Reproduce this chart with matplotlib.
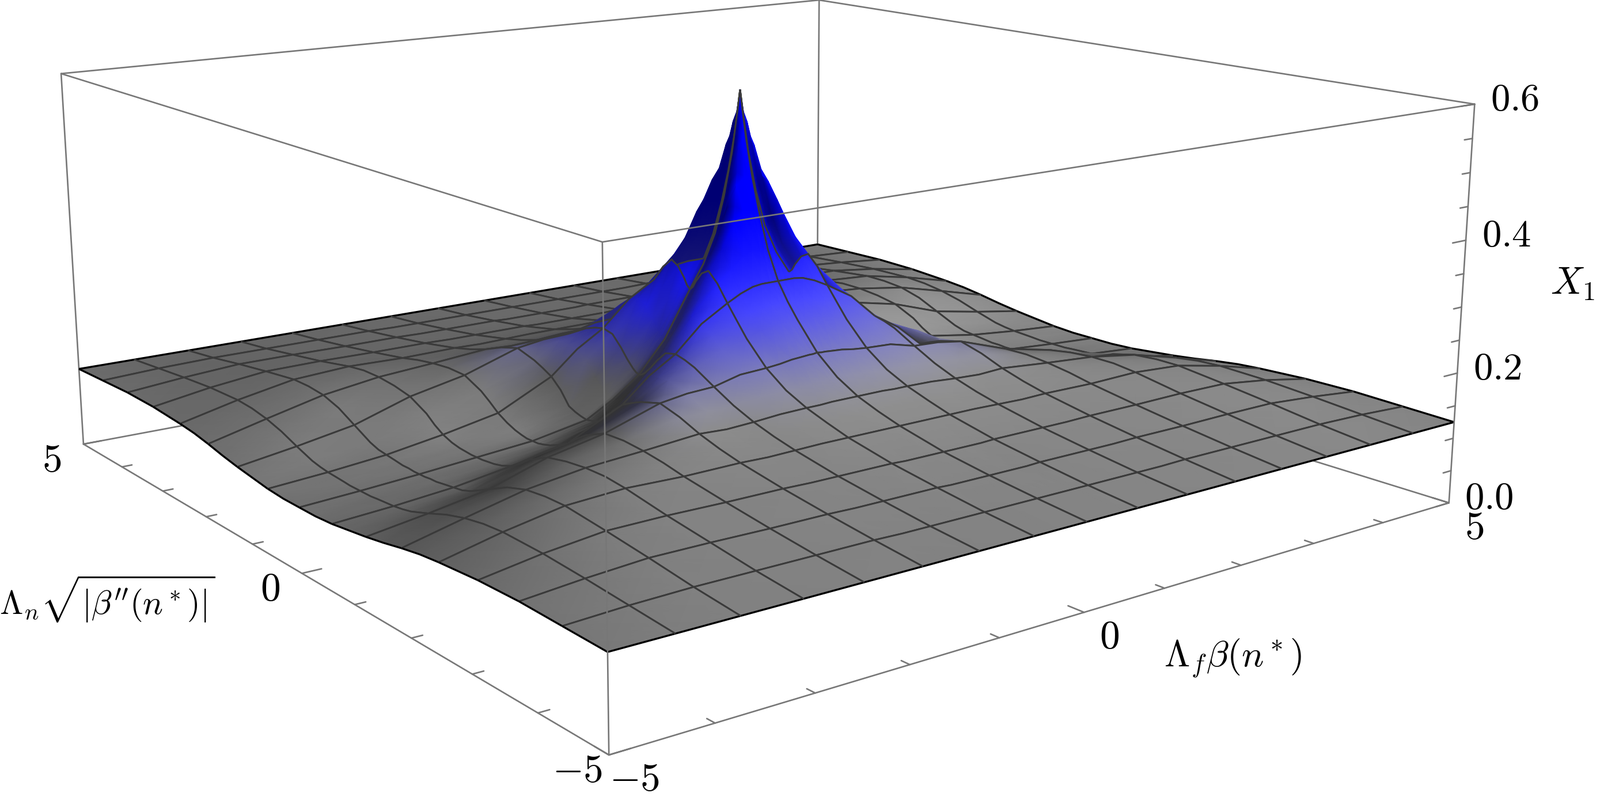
import numpy as np
import matplotlib
matplotlib.use("Agg")
import matplotlib.pyplot as plt

plt.rcParams["mathtext.fontset"] = "cm"

# surface is even in both variables, so values are read for one quadrant
x_nodes = [0, 0.05, 0.1, 0.2, 0.3125, 0.46, 0.625, 0.9375, 1.25, 1.5625, 1.875, 2.5, 3.125, 3.75, 4.375, 5]
y_nodes = [0, 0.05, 0.1, 0.2, 0.3125, 0.46, 0.625, 0.78, 0.9375, 1.25, 1.5625, 1.875, 2.1875, 2.5, 3.125, 3.75, 4.375, 5]

z_x0 = [.598, .560, .525, .470, .420, .365, .322, .295, .272, .232, .205, .187, .175, .165, .150, .140, .132, .125]
z_x1 = [.550, .550, .525, .472, .422, .366, .322, .295, .272, .231, .205, .187, .175, .165, .150, .140, .132, .125]
z_x2 = [.505, .520, .515, .472, .424, .367, .322, .295, .272, .231, .205, .187, .175, .165, .150, .140, .132, .125]
z_x3 = [.440, .450, .465, .460, .425, .368, .322, .295, .272, .230, .204, .187, .175, .165, .150, .140, .132, .125]
z_x4 = [.385, .390, .405, .430, .410, .362, .320, .293, .270, .229, .204, .187, .175, .165, .150, .140, .132, .125]
z_x5 = [.340, .345, .355, .375, .372, .345, .313, .289, .266, .226, .202, .186, .175, .165, .150, .140, .132, .125]
z_x6 = [.305, .310, .320, .335, .342, .327, .302, .280, .258, .224, .201, .186, .175, .165, .151, .141, .132, .125]
z_x7 = [.235, .240, .245, .260, .280, .285, .278, .265, .250, .222, .200, .185, .174, .165, .151, .141, .132, .125]
z_x8 = [.188, .190, .194, .205, .220, .236, .240, .236, .230, .212, .195, .182, .172, .164, .151, .141, .132, .125]
z_x9 = [.158, .160, .163, .170, .182, .204, .215, .218, .219, .210, .194, .180, .171, .163, .151, .141, .132, .125]
z_x10 = [.135, .136, .137, .140, .145, .165, .180, .188, .195, .204, .195, .182, .172, .164, .152, .142, .133, .125]
z_x11 = [.120, .120, .120, .122, .125, .131, .140, .152, .163, .177, .178, .175, .170, .163, .152, .142, .133, .125]
z_x12 = [.113, .113, .113, .114, .115, .118, .124, .133, .145, .160, .166, .169, .169, .165, .153, .143, .133, .125]
z_x13 = [.106, .106, .106, .107, .107, .109, .111, .113, .118, .133, .148, .157, .160, .160, .152, .143, .133, .125]
z_x14 = [.100, .100, .100, .100, .101, .102, .103, .105, .108, .118, .129, .137, .142, .144, .142, .137, .131, .125]
z_x15 = [.095, .095, .095, .095, .095, .096, .097, .099, .101, .105, .110, .116, .121, .124, .128, .129, .127, .125]

mesh_step = 0.625
x_ticks = [-5, -4, -3, -2, -1, 0, 1, 2, 3, 4, 5]
y_ticks = [-5, -4, -3, -2, -1, 0, 1, 2, 3, 4, 5]
z_ticks = [0, .05, .1, .15, .2, .25, .3, .35, .4, .45, .5, .55, .6]
x_labels = {-5: r"$-5$", 0: r"$0$", 5: r"$5$"}
y_labels = {-5: r"$-5$", 0: r"$0$", 5: r"$5$"}
z_labels = {0: r"$0.0$", .2: r"$0.2$", .4: r"$0.4$", .6: r"$0.6$"}

# camera: where the box corners land in the picture, in pixels
corners_3d = [(-5, -5, 0), (5, -5, 0), (-5, 5, 0), (5, 5, 0),
              (-5, -5, .6), (5, -5, .6), (-5, 5, .6), (5, 5, .6)]
corners_px = [(1058, 1311), (2516, 873), (145, 771), (1418, 533),
              (1045, 420), (2560, 181), (106, 128), (1423, 0)]


def fit_camera():
    rows = []
    for (x, y, z), (u, v) in zip(corners_3d, corners_px):
        rows.append([x, y, z, 1, 0, 0, 0, 0, -u * x, -u * y, -u * z, -u])
        rows.append([0, 0, 0, 0, x, y, z, 1, -v * x, -v * y, -v * z, -v])
    _, _, vt = np.linalg.svd(np.array(rows, dtype=float))
    return vt[-1].reshape(3, 4)


cam = fit_camera()


def project(x, y, z):
    x, y, z = np.asarray(x, float), np.asarray(y, float), np.asarray(z, float)
    w = cam[2, 0] * x + cam[2, 1] * y + cam[2, 2] * z + cam[2, 3]
    u = (cam[0, 0] * x + cam[0, 1] * y + cam[0, 2] * z + cam[0, 3]) / w
    v = (cam[1, 0] * x + cam[1, 1] * y + cam[1, 2] * z + cam[1, 3]) / w
    return u, v


# mirror the quadrant to the whole square
quad = np.array([z_x0, z_x1, z_x2, z_x3, z_x4, z_x5, z_x6, z_x7, z_x8, z_x9,
                 z_x10, z_x11, z_x12, z_x13, z_x14, z_x15])
xq, yq = np.array(x_nodes), np.array(y_nodes)
xs = np.concatenate([-xq[:0:-1], xq])
ys = np.concatenate([-yq[:0:-1], yq])
Z = np.concatenate([quad[:0:-1], quad], axis=0)
Z = np.concatenate([Z[:, :0:-1], Z], axis=1)
X, Y = np.meshgrid(xs, ys, indexing="ij")

# lighting
K = 8.0
light = np.array([0.2, -0.5, 0.84])
zx, zy = np.gradient(Z, xs, ys)
nrm = np.sqrt((K * zx) ** 2 + (K * zy) ** 2 + 1)
ln = (-K * zx * light[0] - K * zy * light[1] + light[2]) / nrm
mg = np.clip(1 + 1.6 * (ln - light[2]), 0.42, 1.3)
mb = np.clip(1 + 1.2 * (ln - 0.55), 0.45, 1.0)
t = np.clip((Z - 0.195) / 0.215, 0, 1)
s = np.clip((Z - 0.18) / 0.11, 0, 1)
gray = 0.47 + 0.004 * X - 0.003 * Y
rg = gray * mg * (1 - t)
bl = gray * mg * (1 - s) + mb * s
colors = np.clip(np.dstack([rg, rg, bl]), 0, 1)

fig = plt.figure(figsize=(27.78, 14.03), dpi=100)
ax = fig.add_axes([0, 0, 1, 1])
ax.set_xlim(0, 2778)
ax.set_ylim(1403, 0)
ax.axis("off")
ax.autoscale(False)

box_c = "#777777"
box_lw = 1.9
mesh_c = "#3a3a3a"
mesh_lw = 2.1


def line3(a, b, zorder, color=box_c, lw=box_lw):
    u, v = project([a[0], b[0]], [a[1], b[1]], [a[2], b[2]])
    ax.plot(u, v, color=color, lw=lw, zorder=zorder, solid_capstyle="round")


# box edges behind the surface
for a, b in [((-5, 5, 0), (5, 5, 0)), ((5, -5, 0), (5, 5, 0)), ((5, 5, 0), (5, 5, .6)),
             ((-5, 5, .6), (5, 5, .6)), ((5, -5, .6), (5, 5, .6)), ((-5, 5, 0), (-5, 5, .6))]:
    line3(a, b, 1)

# surface, one mesh cell at a time from the far corner to the near one
mesh_vals = np.arange(-8, 9) * mesh_step
ix = [int(np.argmin(np.abs(xs - m))) for m in mesh_vals]
iy = [int(np.argmin(np.abs(ys - m))) for m in mesh_vals]
U, V = project(X, Y, Z)
order = 10
for a in range(15, -1, -1):
    for b in range(15, -1, -1):
        i0, i1, j0, j1 = ix[a], ix[a + 1], iy[b], iy[b + 1]
        ax.pcolormesh(U[i0:i1 + 1, j0:j1 + 1], V[i0:i1 + 1, j0:j1 + 1],
                      colors[i0:i1 + 1, j0:j1 + 1], shading="gouraud", zorder=order)
        edges = [(U[i0:i1 + 1, j0], V[i0:i1 + 1, j0], b == 0),
                 (U[i0:i1 + 1, j1], V[i0:i1 + 1, j1], b == 15),
                 (U[i0, j0:j1 + 1], V[i0, j0:j1 + 1], a == 0),
                 (U[i1, j0:j1 + 1], V[i1, j0:j1 + 1], a == 15)]
        for eu, ev, outer in edges:
            ax.plot(eu, ev, color="black" if outer else mesh_c, lw=2.4 if outer else mesh_lw,
                    zorder=order + 0.5, solid_capstyle="butt")
        order += 1

# box edges in front of the surface
top = order + 1
for a, b in [((-5, -5, 0), (5, -5, 0)), ((-5, -5, 0), (-5, 5, 0)), ((-5, -5, 0), (-5, -5, .6)),
             ((-5, -5, .6), (5, -5, .6)), ((-5, -5, .6), (-5, 5, .6)), ((5, -5, 0), (5, -5, .6))]:
    line3(a, b, top)

# ticks
for v in x_ticks:
    ln_t = 0.2 if v in x_labels else 0.11
    line3((v, -5, 0), (v, -5 + ln_t, 0), top)
    if v in x_labels:
        ax.annotate(x_labels[v], project(v, -5, 0), xytext=(44, -42), textcoords="offset pixels",
                    ha="center", va="center", fontsize=50, zorder=top)
for v in y_ticks:
    ln_t = 0.2 if v in y_labels else 0.11
    line3((-5, v, 0), (-5 + ln_t, v, 0), top)
    if v in y_labels:
        ax.annotate(y_labels[v], project(-5, v, 0), xytext=(-55, -27), textcoords="offset pixels",
                    ha="center", va="center", fontsize=50, zorder=top)
for v in z_ticks:
    major = v in z_labels
    line3((5, -5, v), (5 - (0.2 if major else 0.12), -5, v), top)
    if major:
        ax.annotate(z_labels[v], project(5, -5, v), xytext=(70, 8), textcoords="offset pixels",
                    ha="center", va="center", fontsize=48, zorder=top)

# axis titles
ax.annotate(r"$\Lambda_f\beta(n^*)$", project(2.0, -5, 0), xytext=(-14, -162), textcoords="offset pixels",
            ha="center", va="center", fontsize=46, zorder=top)
ax.annotate(r"$\Lambda_n\sqrt{|\beta''(n^*)|}$", project(-5, 0.6, 0), xytext=(-286, -76), textcoords="offset pixels",
            ha="center", va="center", fontsize=42, zorder=top)
ax.annotate(r"$X_1$", project(5, -5, 0.3), xytext=(193, 42), textcoords="offset pixels",
            ha="center", va="center", fontsize=48, zorder=top)

fig.savefig("out.png", dpi=100)
